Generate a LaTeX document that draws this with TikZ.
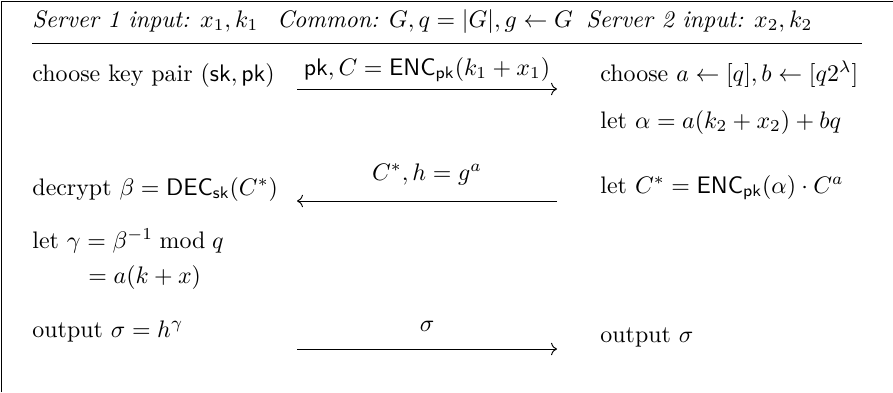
\documentclass[tikz,border=0pt]{standalone}
\usepackage{amsmath}
\usetikzlibrary{arrows.meta,positioning}
\begin{document}
\begin{tikzpicture}[x=0.4184pt,y=-0.4184pt,>=To,txt/.style={anchor=base west,inner sep=0pt},msg/.style={anchor=base,inner sep=0pt}]
\useasboundingbox (0,0) rectangle (893,392);
\draw (1,392) |- (893,1);
\node[txt] (in1) at (32,27) {\textit{Server 1 input:} $x_1,k_1$};
\node[msg] (common) at (425,27) {\textit{Common:} $G,q=|G|,g\leftarrow G$};
\node[txt] (in2) at (586,27) {\textit{Server 2 input:} $x_2,k_2$};
\coordinate (ruleL) at (32,43);
\coordinate (ruleR) at (862,43);
\draw (ruleL)--(ruleR);
\node[txt] (keys) at (32,81) {choose key pair $(\mathsf{sk},\mathsf{pk})$};
\node[txt] (pick) at (600,81) {choose $a\leftarrow[q],b\leftarrow[q2^\lambda]$};
\node[txt] (alpha) at (600,128) {let $\alpha=a(k_2+x_2)+bq$};
\node[txt] (dec) at (32,195) {decrypt $\beta=\mathsf{DEC}_{\mathsf{sk}}(C^*)$};
\node[txt] (cstar) at (600,193) {let $C^*=\mathsf{ENC}_{\mathsf{pk}}(\alpha)\cdot C^a$};
\node[txt] (gamma) at (32,248) {let $\gamma=\beta^{-1}\bmod q$};
\node[txt] (gamma2) at (88,283) {$=a(k+x)$};
\node[txt] (out1) at (32,337) {output $\sigma=h^\gamma$};
\node[txt] (out2) at (600,342) {output $\sigma$};
\coordinate (m1a) at (297,89);
\coordinate (m1b) at (557,89);
\coordinate (m2a) at (557,201);
\coordinate (m2b) at (297,201);
\coordinate (m3a) at (297,349);
\coordinate (m3b) at (557,349);
\node[msg] (lab1) at (427,75) {$\mathsf{pk},C=\mathsf{ENC}_{\mathsf{pk}}(k_1+x_1)$};
\node[msg] (lab2) at (427,180) {$C^*,h=g^a$};
\node[msg] (lab3) at (427,331) {$\sigma$};
\draw[->] (m1a)--(m1b);
\draw[->] (m2a)--(m2b);
\draw[->] (m3a)--(m3b);
\end{tikzpicture}
\end{document}
